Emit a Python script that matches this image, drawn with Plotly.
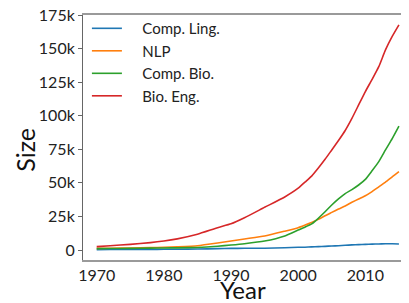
import plotly.graph_objects as go

years = [1970, 1972, 1975, 1978, 1980, 1982, 1985, 1988, 1990, 1992, 1995, 1998, 2000, 2001, 2002,
         2003, 2004, 2005, 2006, 2007, 2008, 2009, 2010, 2011, 2012, 2013, 2014, 2015]
bio_eng = [2.5, 3.2, 4.2, 5.5, 6.7, 8.3, 11.7, 16.6, 19.5, 24, 31.8, 39.5, 46, 50.5, 55, 61, 67.5,
           74.5, 81.5, 89, 98, 108, 118, 127, 136.5, 149, 159, 167.6]
comp_bio = [1.0, 1.1, 1.2, 1.4, 1.5, 1.6, 1.9, 2.8, 3.7, 4.7, 6.7, 10.5, 14.9, 17, 19.4, 23.6, 28.5,
            33.5, 38, 42, 45, 48.4, 52.6, 59, 65.8, 74.5, 83, 92.3]
nlp = [1.2, 1.3, 1.5, 1.8, 2.0, 2.4, 3.2, 5.2, 6.7, 8.2, 10.4, 14, 16.6, 18.5, 20.5, 22.8, 25.5,
       28, 30.5, 32.8, 35.5, 38, 40.4, 43.5, 47, 50.5, 54.5, 58.3]
comp_ling = [0.3, 0.35, 0.4, 0.45, 0.5, 0.6, 0.7, 1.0, 1.2, 1.25, 1.3, 1.7, 2.0, 2.1, 2.3, 2.5, 2.7,
             3.0, 3.2, 3.5, 3.8, 4.0, 4.2, 4.4, 4.5, 4.7, 4.6, 4.5]  # thousands

series_names = ["Comp. Ling.", "NLP", "Comp. Bio.", "Bio. Eng."]
series_vals = [comp_ling, nlp, comp_bio, bio_eng]
colors = ["#1f77b4", "#ff7f0e", "#2ca02c", "#d62728"]

ytick_vals = [0, 25, 50, 75, 100, 125, 150, 175]
ytick_text = ["0", "25k", "50k", "75k", "100k", "125k", "150k", "175k"]
xtick_vals = [1970, 1980, 1990, 2000, 2010]

fig = go.Figure()
for name, vals, c in zip(series_names, series_vals, colors):
    fig.add_trace(go.Scatter(x=years, y=vals, mode="lines", name="\u00a0\u00a0\u00a0\u00a0" + name,
                             line=dict(color=c, width=1.6, shape="spline", smoothing=0.5)))

font = "Lato, Open Sans, sans-serif"
fig.update_layout(
    width=401, height=295,
    margin=dict(l=75, r=0, t=7, b=43, autoexpand=False),
    paper_bgcolor="white", plot_bgcolor="white",
    font=dict(family=font, size=16, color="#222"),
    showlegend=True,
    legend=dict(x=0.012, y=1.012, xanchor="left", yanchor="top",
                bgcolor="rgba(0,0,0,0)", font=dict(size=15, color="#222"),
                tracegroupgap=0, itemwidth=30),
    xaxis=dict(range=[1967.96, 2016.5], tickvals=xtick_vals, showgrid=False, zeroline=False,
               showline=True, mirror=True, linecolor="#9a9a9a", linewidth=2, ticks="",
               automargin=False, ticklabeloverflow="allow"),
    yaxis=dict(range=[-7.45, 175], tickvals=ytick_vals, ticktext=ytick_text,
               showgrid=False, zeroline=False, showline=True, linecolor="#666", linewidth=1,
               ticks="outside", ticklen=4, tickcolor="#666", automargin=False,
               ticklabeloverflow="allow"),
    annotations=[
        dict(text="Year", xref="paper", yref="paper", x=0.49, y=-0.12, xanchor="center",
             yanchor="middle", showarrow=False, font=dict(size=24, color="#111")),
        dict(text="Size", xref="paper", yref="paper", x=-0.178, y=0.45, xanchor="center",
             yanchor="middle", textangle=-90, showarrow=False, font=dict(size=25, color="#111")),
    ],
)
fig.write_html("out.html")
